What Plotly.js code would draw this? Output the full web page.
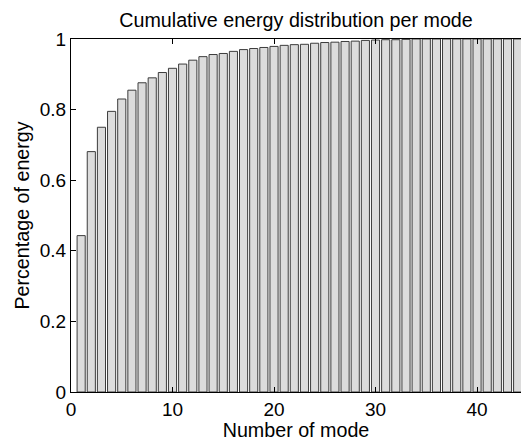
<!DOCTYPE html>
<html>
<head>
<meta charset="utf-8">
<script src="https://cdn.plot.ly/plotly-3.0.1.min.js"></script>
<style>
  html, body { margin: 0; padding: 0; background: #fff; }
  #chart { width: 521px; height: 441px; }
</style>
</head>
<body>
<div id="chart"></div>
<script>
// Cumulative share of energy captured by the first n modes
const modes = [];
for (let i = 1; i <= 45; i++) modes.push(i);

const cumulativeEnergy = [
  0.443, 0.681, 0.750, 0.795, 0.830, 0.855, 0.876, 0.890, 0.905, 0.917,
  0.929, 0.940, 0.950, 0.956, 0.959, 0.965, 0.970, 0.973, 0.976, 0.979,
  0.982, 0.984, 0.985, 0.988, 0.990, 0.991, 0.993, 0.994, 0.996, 0.997,
  0.998, 0.998, 0.999, 1.000, 1.000, 1.000, 1.000, 1.000, 1.000, 1.000,
  1.000, 1.000, 1.000, 1.000, 1.000
];

const xTicks = [0, 10, 20, 30, 40];
const yTicks = [0, 0.2, 0.4, 0.6, 0.8, 1];
const yTickLabels = ['0', '0.2', '0.4', '0.6', '0.8', '1'];

const font = 'Liberation Sans, Arial, Helvetica, sans-serif';

const trace = {
  type: 'bar',
  x: modes,
  y: cumulativeEnergy,
  width: 0.8,
  marker: {
    color: '#dcdcdc',
    line: { color: '#3c3c3c', width: 1 }
  },
  hoverinfo: 'x+y'
};

const axisCommon = {
  showline: true,
  linecolor: '#000',
  linewidth: 1,
  ticks: 'inside',
  ticklen: 5,
  tickwidth: 1,
  tickcolor: '#000',
  showgrid: false,
  zeroline: false,
  tickfont: { family: font, size: 19, color: '#000' }
};

const layout = {
  width: 521,
  height: 441,
  margin: { l: 71, r: 0, t: 39, b: 49 },
  paper_bgcolor: '#fff',
  plot_bgcolor: '#fff',
  showlegend: false,
  bargap: 0,
  title: {
    text: 'Cumulative energy distribution per mode',
    font: { family: font, size: 19.7, color: '#000' },
    x: 0.5,
    xref: 'paper',
    xanchor: 'center',
    y: 0.955,
    yref: 'container',
    yanchor: 'middle'
  },
  xaxis: Object.assign({}, axisCommon, {
    mirror: 'ticks',
    range: [0, 44.33],
    tickmode: 'array',
    tickvals: xTicks,
    ticktext: xTicks.map(String),
    title: {
      text: 'Number of mode',
      font: { family: font, size: 19.7, color: '#000' },
      standoff: 0
    }
  }),
  yaxis: Object.assign({}, axisCommon, {
    mirror: false,
    range: [0, 1],
    tickmode: 'array',
    tickvals: yTicks,
    ticktext: yTickLabels,
    title: {
      text: 'Percentage of energy',
      font: { family: font, size: 19.7, color: '#000' },
      standoff: 4
    }
  })
};

Plotly.newPlot('chart', [trace], layout, { displayModeBar: false, staticPlot: true });
</script>
</body>
</html>
